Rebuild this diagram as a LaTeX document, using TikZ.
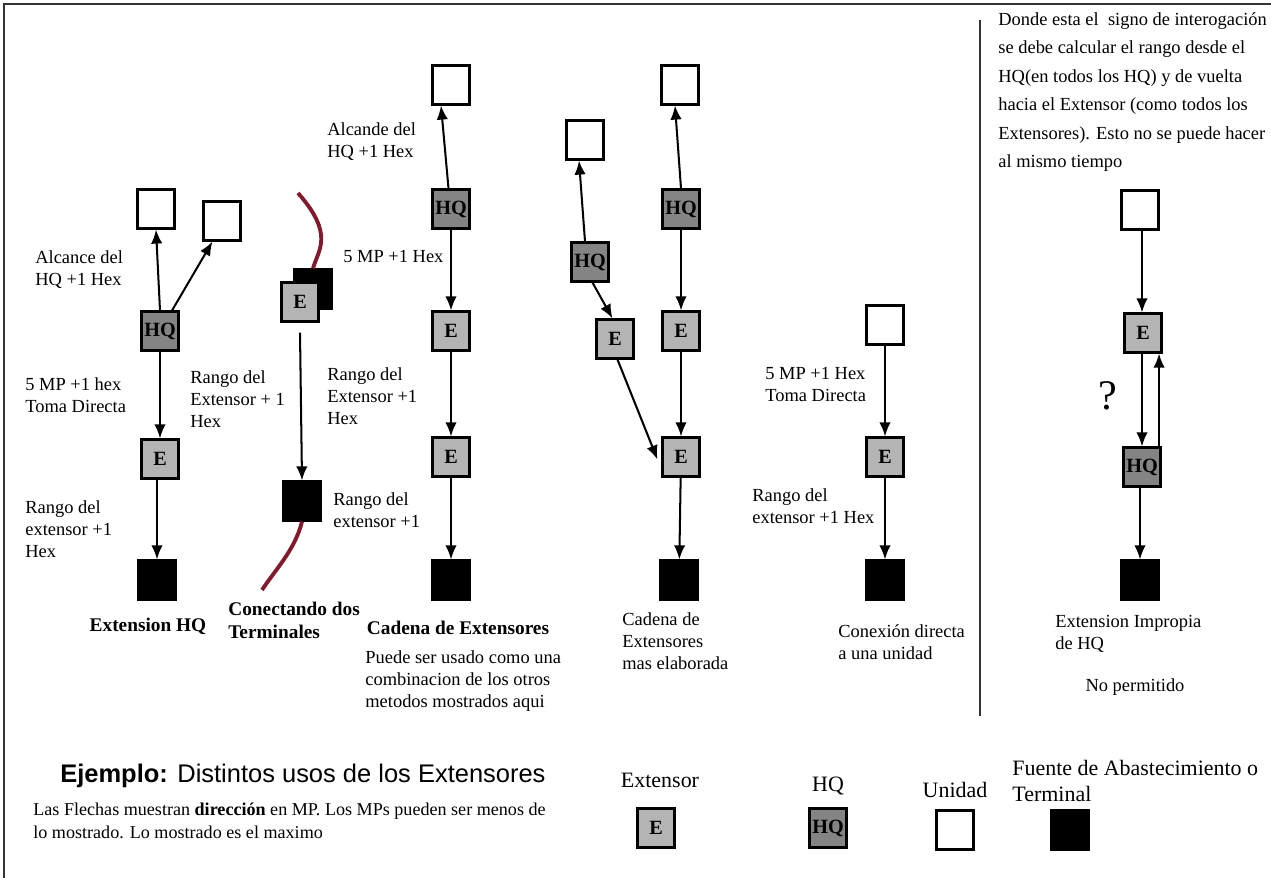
\documentclass[tikz,border=0pt]{standalone}
\usepackage{fontspec}
\setmainfont{Liberation Serif}
\setsansfont{Liberation Sans}
\usetikzlibrary{arrows.meta}

\definecolor{extgray}{RGB}{180,180,180}
\definecolor{hqgray}{RGB}{132,132,132}
\definecolor{wire}{RGB}{128,26,44}

\begin{document}
\begin{tikzpicture}[
      x=0.02cm, y=-0.02cm,
      box/.style={draw=black, line width=1.2pt, minimum width=0.74cm, minimum height=0.78cm,
        inner sep=0pt, font=\fontsize{11.5}{11.5}\selectfont\bfseries},
      unit/.style={box, fill=white},
      term/.style={box, fill=black},
      ext/.style={box, fill=extgray},
      hq/.style={box, fill=hqgray},
      link/.style={-{Latex[length=8pt, width=6.5pt]}, line width=1.15pt},
      lbl/.style={anchor=north west, align=left, inner sep=0pt,
        font=\fontsize{10.5}{12.5}\selectfont},
      caption/.style={align=left, inner sep=0pt,
        font=\fontsize{11}{13}\selectfont\bfseries}
    ]
    \useasboundingbox (0,0) rectangle (1271,878);
    % frame
    \draw[line width=1.3pt, black!80] (4,878) -- (4,4) -- (1271,4);
    \draw[line width=1pt, black!80] (980,20) -- (980,716);

    % unidades
    \foreach \n/\x/\y in {U1a/156/209, U1b/222/221, U3/451/85, U4a/585/140, U4b/680/85,
        U5/885/325, U6/1140/210, UL/955/830}
      \node[unit] (\n) at (\x,\y) {};
    % terminales
    \foreach \n/\x/\y in {T1/157/580, Tb2/313/289, T2/302/501, T3/451/580, T4/679/580,
        T5/885/580, T6/1140/580, TL/1070/830}
      \node[term] (\n) at (\x,\y) {};
    % extensores
    \foreach \n/\x/\y in {E1/160/459, E2/300/302, E3a/451/331, E3b/451/457, E4a/615/339,
        E4b/681/331, E4c/681/457, E5/885/457, E6/1143/333, EL/656/828}
      \node[ext] (\n) at (\x,\y) {E};
    % cuarteles
    \foreach \n/\x/\y in {HQ1/160/331, HQ3/451/209, HQ4a/590/262, HQ4b/681/209,
        HQ6/1142/467, HQL/828/828}
      \node[hq] (\n) at (\x,\y) {HQ};

    % Extension HQ
    \draw[link] (HQ1.north) -- (U1a.south);
    \draw[link] ([xshift=-0.15cm]HQ1.north east) -- ([xshift=0.2cm]U1b.south west);
    \draw[link] (HQ1) -- (E1);
    \draw[link] (E1.south -| T1) -- (T1.north);
    \node[lbl] (l1a) at (35,250) {Alcance del\\HQ +1 Hex};
    \node[lbl] (l1b) at (25,377) {5 MP +1 hex\\Toma Directa};
    \node[lbl] (l1c) at (25,500) {Rango del\\extensor +1\\Hex};
    \node[lbl] (l1d) at (190,370) {Rango del\\Extensor + 1\\Hex};
    \node[caption] (c1) at (148,626) {Extension HQ};

    % Conectando dos Terminales
    \coordinate (w1) at (298,193);
    \coordinate (w2) at (262,590);
    \draw[wire, line width=2.2pt] (w1) .. controls (335,235) and (318,250) .. (Tb2.north);
    \draw[wire, line width=2.2pt] (T2.south) .. controls (295,550) and (275,570) .. (w2);
    \node[ext] at (E2) {E};
    \draw[link] ([yshift=-0.2cm]E2.south) -- (T2.north);
    \node[lbl] (l2a) at (333,492) {Rango del\\extensor +1};
    \node[caption, anchor=north west] (c2) at (228,602) {Conectando dos\\Terminales};

    % Cadena de Extensores
    \draw[link] ([xshift=-0.05cm]HQ3.north) -- ([xshift=-0.2cm]U3.south);
    \draw[link] (HQ3) -- (E3a);
    \draw[link] (E3a) -- (E3b);
    \draw[link] (E3b) -- (T3);
    \node[lbl] (l3a) at (327,122) {Alcande del\\HQ +1 Hex};
    \node[lbl] (l3b) at (343,250) {5 MP +1 Hex};
    \node[lbl] (l3c) at (327,367) {Rango del\\Extensor +1\\Hex};
    \node[caption] (c3) at (458,628) {Cadena de Extensores};
    \node[lbl] (l3d) at (365,650) {Puede ser usado como una\\combinacion de los otros\\metodos mostrados aqui};

    % Cadena mas elaborada
    \draw[link] ([xshift=-0.1cm]HQ4a.north) -- ([xshift=-0.12cm]U4a.south);
    \draw[link] ([xshift=0.05cm]HQ4a.south) -- ([xshift=-0.05cm]E4a.north);
    \draw[link] ([xshift=0.05cm]E4a.south) -- ([xshift=-0.08cm,yshift=-0.05cm]E4c.west);
    \draw[link] (HQ4b.north) -- ([xshift=-0.1cm]U4b.south);
    \draw[link] (HQ4b) -- (E4b);
    \draw[link] (E4b) -- (E4c);
    \draw[link] (E4c) -- (T4);
    \node[lbl] (l4) at (622,612) {Cadena de\\Extensores\\mas elaborada};

    % Conexion directa
    \draw[link] (U5) -- (E5);
    \draw[link] (E5) -- (T5);
    \node[lbl] (l5a) at (765,367) {5 MP +1 Hex\\Toma Directa};
    \node[lbl] (l5b) at (752,488) {Rango del\\extensor +1 Hex};
    \node[lbl] (l5c) at (838,624) {Conexión directa\\a una unidad};

    % Extension impropia
    \node[lbl, font=\fontsize{10.5}{16.2}\selectfont] (l6a) at (998,12)
      {Donde esta el\ \ signo de interogación\\se debe calcular el rango desde el\\HQ(en todos los HQ) y de vuelta\\hacia el Extensor (como todos los\\Extensores). Esto no se puede hacer\\al mismo tiempo};
    \draw[link] (U6.south -| HQ6) -- (HQ6 |- E6.north);
    \draw[link] (HQ6 |- E6.south) -- (HQ6.north);
    \draw[link] ([xshift=-0.05cm]HQ6.north east) -- ([xshift=-0.05cm]HQ6.north east |- E6.south);
    \draw[link] (HQ6.south -| T6) -- (T6.north);
    \node[inner sep=0pt, font=\fontsize{24}{24}\selectfont] (q6) at (1108,396) {?};
    \node[lbl] (l6b) at (1055,615) {Extension Impropia\\de HQ};
    \node[inner sep=0pt, font=\fontsize{10.5}{12.5}\selectfont] (l6c) at (1135,687) {No permitido};

    % leyenda
    \node[anchor=west, inner sep=0pt, font=\sffamily\fontsize{14.5}{17}\selectfont] (head) at (60,776)
      {\textbf{Ejemplo:} Distintos usos de los Extensores};
    \node[lbl, font=\fontsize{10.3}{12.8}\selectfont] (note) at (33,803)
      {Las Flechas muestran \textbf{dirección} en MP. Los MPs pueden ser menos de\\lo mostrado. Lo mostrado es el maximo};
    \node[inner sep=0pt, font=\fontsize{12.5}{14}\selectfont] (kE) at (660,780) {Extensor};
    \node[inner sep=0pt, font=\fontsize{12.5}{14}\selectfont] (kHQ) at (828,786) {HQ};
    \node[inner sep=0pt, font=\fontsize{12.5}{14}\selectfont] (kU) at (955,790) {Unidad};
    \node[anchor=north west, align=left, inner sep=0pt, font=\fontsize{12.5}{14.5}\selectfont] (kT) at (1012,760)
      {Fuente de Abastecimiento o\\Terminal};
    \end{tikzpicture}
\end{document}
